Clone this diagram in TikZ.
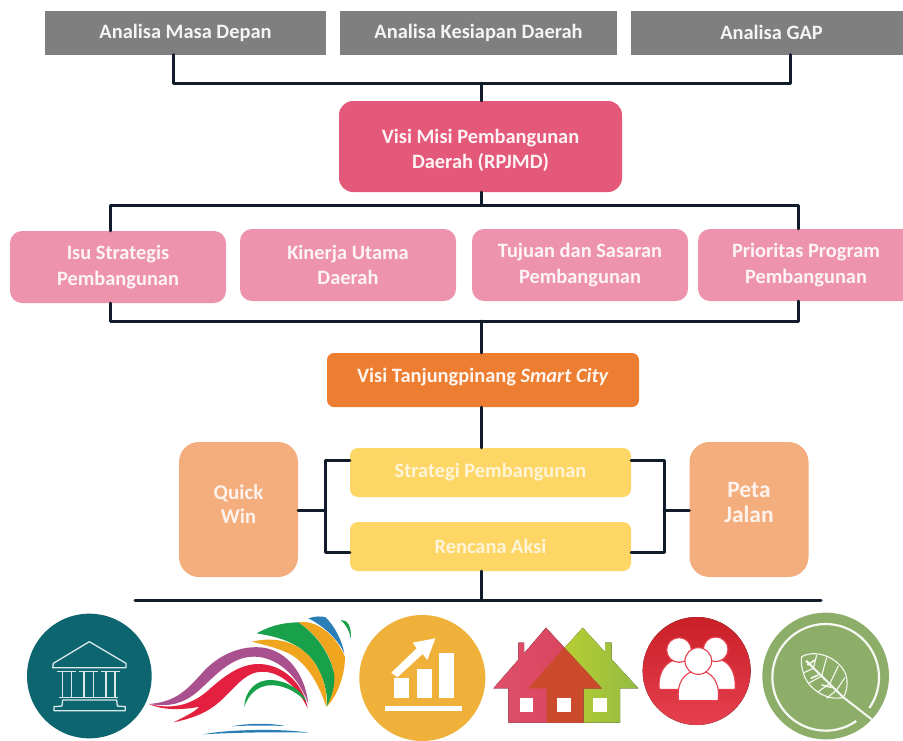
\documentclass[tikz,border=0pt]{standalone}
\usepackage{fontspec}
\setmainfont{Carlito}
\definecolor{cgray}{HTML}{7F7F7F}
\definecolor{cdeep}{HTML}{E4587A}
\definecolor{clight}{HTML}{EE93AD}
\definecolor{corange}{HTML}{ED7D31}
\definecolor{cyellow}{HTML}{FDD666}
\definecolor{cpeach}{HTML}{F4AE7E}
\definecolor{cline}{HTML}{111C2B}
\definecolor{cteal}{HTML}{0D6570}
\definecolor{cgold}{HTML}{F0B13B}
\definecolor{cleaf}{HTML}{8DAE68}
\definecolor{sorange}{HTML}{F0A51E}
\definecolor{sgreen}{HTML}{18A04A}
\definecolor{sblue}{HTML}{2A7DB5}
\definecolor{spurple}{HTML}{A9508F}
\definecolor{sred}{HTML}{E3203F}
\definecolor{hred}{HTML}{DF4F6B}
\definecolor{hredb}{HTML}{D64056}
\definecolor{hdark}{HTML}{CC4A2C}
\definecolor{hlime}{HTML}{C8D62B}
\definecolor{hgreen}{HTML}{93BB42}
\definecolor{pred}{HTML}{C91F27}
\definecolor{predb}{HTML}{E6404F}
\tikzset{
 box/.style={inner sep=0pt,align=center,font=\fontsize{20.4}{25.5}\selectfont\bfseries},
 graybox/.style={box,fill=cgray,text=white!92!cgray,minimum width=281pt,minimum height=44pt},
 deepbox/.style={box,fill=cdeep,rounded corners=14pt,minimum width=283pt,minimum height=91pt},
 lightbox/.style={box,fill=clight,text=white!90!clight,rounded corners=12pt,minimum width=216pt,minimum height=72pt},
 orangebox/.style={box,fill=corange,rounded corners=7pt,minimum width=312pt,minimum height=54pt},
 yellowbox/.style={box,fill=cyellow,text=white!75!cyellow,rounded corners=8pt,minimum width=281pt,minimum height=49pt},
 peachbox/.style={box,fill=cpeach,rounded corners=20pt,minimum width=119pt,minimum height=135pt},
 lab/.style={inner sep=0pt,align=center,rounded corners=0pt,fill=none},
 conn/.style={draw=cline,line width=3pt,line cap=round,line join=round},
 iconline/.style={draw=white!85!cteal,line width=1.3pt,line join=round},
}
\begin{document}
\begin{tikzpicture}[x=1pt,y=-1pt]
\useasboundingbox (0,0) rectangle (903,740);
\fill[white] (0,0) rectangle (903,740);
% nodes
\node[graybox] (g1) at (185.5,32.5) {Analisa Masa Depan};
\node[graybox,minimum width=277pt] (g2) at (478.5,32.5) {Analisa Kesiapan Daerah};
\node[graybox] (g3) at (771.5,32.5) {Analisa GAP};
\node[deepbox,label={[lab,yshift=-4pt,font=\fontsize{20.4}{25.5}\selectfont\bfseries,text=white!92!cdeep]center:{Visi Misi Pembangunan\\Daerah (RPJMD)}}] (visi) at (480.5,146.5) {};
\node[lightbox] (isu) at (118,267) {Isu Strategis\\Pembangunan};
\node[lightbox] (kin) at (348,265) {Kinerja Utama\\Daerah};
\node[lightbox] (tuj) at (580,265) {Tujuan dan Sasaran\\Pembangunan};
\node[lightbox] (pri) at (806,265) {Prioritas Program\\Pembangunan};
\node[orangebox,label={[lab,yshift=3pt,font=\fontsize{20.4}{25.5}\selectfont\bfseries,text=white!92!corange]center:{Visi Tanjungpinang \textit{Smart City}}}] (tj) at (483,380) {};
\node[yellowbox] (str) at (490.5,472.5) {Strategi Pembangunan};
\node[yellowbox] (ren) at (490.5,546.5) {Rencana Aksi};
\node[peachbox,label={[lab,yshift=5pt,font=\fontsize{21}{24}\selectfont\bfseries,text=white!85!cpeach]center:{Quick\\Win}}] (qw) at (238.5,509.5) {};
\node[peachbox,label={[lab,yshift=7pt,font=\fontsize{23.5}{25}\selectfont\bfseries,text=white!85!cpeach]center:{Peta\\Jalan}}] (pj) at (749,509.5) {};
% junctions
\coordinate (ja) at (173,83);
\coordinate (jb) at (481,83);
\coordinate (jc) at (790,83);
\coordinate (jd) at (110,205);
\coordinate (je) at (481,205);
\coordinate (jf) at (798,205);
\coordinate (jg) at (110,321);
\coordinate (jh) at (481,321);
\coordinate (ji) at (798,321);
\coordinate (jj) at (325,460);
\coordinate (jk) at (325,552);
\coordinate (jl) at (325,510);
\coordinate (jm) at (664,460);
\coordinate (jn) at (664,552);
\coordinate (jo) at (664,510);
\coordinate (jp) at (135,600);
\coordinate (jq) at (481,600);
\coordinate (jr) at (821,600);
% connectors
\draw[conn] (ja |- g1.south) -- (ja) -- (jc) -- (jc |- g3.south);
\draw[conn] (jb) -- (jb |- visi.north);
\draw[conn] (je |- visi.south) -- (je);
\draw[conn] (jd |- isu.north) -- (jd) -- (jf) -- (jf |- pri.north);
\draw[conn] (jg |- isu.south) -- (jg) -- (ji) -- (ji |- pri.south);
\draw[conn] (jh) -- (jh |- tj.north);
\draw[conn] (jh |- tj.south) -- (jh |- str.north);
\draw[conn] (str.west |- jj) -- (jj) -- (jk) -- (ren.west |- jk);
\draw[conn] (qw.east |- jl) -- (jl);
\draw[conn] (str.east |- jm) -- (jm) -- (jn) -- (ren.east |- jn);
\draw[conn] (jo) -- (pj.west |- jo);
\draw[conn] (jq |- ren.south) -- (jq);
\draw[conn] (jp) -- (jr);
% left icons (crop coordinates, 3 units per pixel)
\begin{scope}[shift={(0,600)},x=0.33333pt,y=-0.33333pt]
 % bank
 \fill[cteal] (268,228) circle[radius=187];
 \draw[iconline] (268,125) -- (160,190) -- (158,203) -- (378,203) -- (378,190) -- cycle;
 \draw[iconline] (172,215) -- (228,215) (187,215) -- (187,290) (214,215) -- (214,290)
                 (238,215) -- (294,215) (252,215) -- (252,290) (280,215) -- (280,290)
                 (304,215) -- (360,215) (318,215) -- (318,290) (345,215) -- (345,290)
                 (178,293) -- (355,293);
 \draw[iconline] (188,300) -- (350,300) -- (352,318) -- (376,320) -- (376,332) -- (162,332) -- (162,320) -- (186,318) -- cycle;
 % swoosh
 \fill[spurple] (447,312) .. controls (530,305) and (560,270) .. (610,215)
    .. controls (660,160) and (730,135) .. (790,143)
    .. controls (860,153) and (915,220) .. (925,312)
    .. controls (900,240) and (840,172) .. (765,170)
    .. controls (690,168) and (640,235) .. (590,277)
    .. controls (550,310) and (510,322) .. (447,312) -- cycle;
 \fill[sred] (447,312) .. controls (500,325) and (560,325) .. (620,275)
    .. controls (670,230) and (720,190) .. (780,192)
    .. controls (850,195) and (910,250) .. (923,325)
    .. controls (890,255) and (830,205) .. (770,217)
    .. controls (720,228) and (690,285) .. (640,320)
    .. controls (610,342) and (570,357) .. (520,367)
    .. controls (555,350) and (585,335) .. (598,320)
    .. controls (550,330) and (490,332) .. (447,312) -- cycle;
 \fill[sgreen] (733,320) .. controls (735,270) and (770,238) .. (815,240)
    .. controls (860,242) and (905,270) .. (920,305)
    .. controls (885,272) and (845,252) .. (805,256)
    .. controls (770,260) and (745,285) .. (733,320) -- cycle;
 \fill[sorange] (895,67) .. controls (945,58) and (1005,100) .. (1035,170)
    .. controls (1035,230) and (1010,290) .. (980,320) -- (1000,210)
    .. controls (985,150) and (945,100) .. (895,67) -- cycle;
 \fill[sgreen] (770,100) .. controls (820,72) and (860,68) .. (895,67)
    .. controls (950,105) and (990,160) .. (1003,225)
    .. controls (1005,260) and (995,290) .. (980,320)
    .. controls (985,280) and (970,230) .. (945,190)
    .. controls (900,125) and (830,110) .. (770,100) -- cycle;
 \fill[sorange] (755,125) .. controls (830,108) and (900,125) .. (945,190)
    .. controls (970,230) and (985,280) .. (978,320)
    .. controls (960,260) and (925,195) .. (875,165)
    .. controls (840,145) and (795,135) .. (755,125) -- cycle;
 \fill[sblue] (925,55) .. controls (945,48) and (965,48) .. (977,52)
    .. controls (1005,80) and (1025,120) .. (1033,160)
    .. controls (1015,120) and (975,80) .. (925,55) -- cycle;
 \fill[sgreen] (1022,60) .. controls (1042,58) and (1056,80) .. (1052,115)
    .. controls (1048,90) and (1038,75) .. (1022,60) -- cycle;
 \fill[sblue] (610,403) .. controls (680,388) and (850,385) .. (925,398)
    .. controls (830,395) and (690,398) .. (610,403) -- cycle;
 \fill[sblue] (695,379) .. controls (740,370) and (810,368) .. (855,378)
    .. controls (810,376) and (740,376) .. (695,379) -- cycle;
 % chart
 \fill[cgold] (1267,234) circle[radius=189];
 \fill[white] (1155,318) rectangle (1385,333);
 \fill[white] (1182,235) rectangle (1226,295);
 \fill[white] (1250,208) rectangle (1296,295);
 \fill[white] (1316,160) rectangle (1362,295);
 \fill[white] (1174,218) -- (1250,145) -- (1238,128) -- (1306,115) -- (1282,180) -- (1268,162) -- (1192,232) -- cycle;
\end{scope}
% right icons
\begin{scope}[shift={(450,600)},x=0.33333pt,y=-0.33333pt]
 % green house
 \fill[left color=hlime,right color=hgreen]
   (398,83) -- (465,156) -- (465,128) -- (485,128) -- (485,178) -- (565,265) -- (510,265) -- (510,368) -- (400,368) -- (400,265) -- (235,265) -- cycle;
 % red house
 \fill[left color=hred,right color=hredb]
   (288,83) -- (455,265) -- (400,265) -- (400,368) -- (175,368) -- (175,265) -- (130,265) -- (205,179) -- (205,128) -- (222,128) -- (222,160) -- cycle;
 % overlap
 \fill[hdark] (343,143) -- (455,265) -- (400,265) -- (400,368) -- (290,368) -- (290,265) -- (235,265) -- cycle;
 % windows
 \fill[white] (210,295) rectangle (250,335);
 \fill[white] (320,295) rectangle (362,335);
 \fill[white] (430,295) rectangle (472,335);
 % people
 \fill[top color=pred,bottom color=predb] (740,213) circle[radius=162];
 \begin{scope}[fill=white,draw=predb,line width=1.1pt]
  \filldraw (628,268) .. controls (622,215) and (650,178) .. (690,178) .. controls (720,178) and (740,205) .. (745,268) -- cycle;
  \filldraw (740,268) .. controls (745,205) and (770,178) .. (805,178) .. controls (838,182) and (860,220) .. (855,268) -- cycle;
  \filldraw (687,150) circle[radius=37];
  \filldraw (797,148) circle[radius=37];
  \filldraw (686,302) .. controls (678,250) and (703,212) .. (745,212) .. controls (787,212) and (812,250) .. (804,302) -- cycle;
  \filldraw (745,183) circle[radius=40];
 \end{scope}
 % leaf
 \fill[cleaf] (1127,228) circle[radius=190];
 \draw[white!92!cleaf,line width=2.2pt] (1127,232) ++(55:160) arc[start angle=55,end angle=395,radius=160];
 \draw[white!92!cleaf,line width=1.1pt] (1055,170) .. controls (1100,145) and (1170,175) .. (1188,225)
   .. controls (1195,250) and (1190,275) .. (1180,292)
   .. controls (1130,305) and (1075,265) .. (1062,225)
   .. controls (1055,205) and (1052,185) .. (1055,170) -- cycle;
 \draw[white!92!cleaf,line width=2pt] (1068,182) -- (1180,292) -- (1265,358);
 \draw[white!92!cleaf,line width=1.1pt]
   (1090,205) -- (1100,165) (1115,228) -- (1130,172) (1140,250) -- (1165,198)
   (1090,205) -- (1062,218) (1115,228) -- (1075,250) (1140,250) -- (1105,275)
   (1160,270) -- (1130,295) (1160,270) -- (1185,232);
 \draw[white!92!cleaf,line width=1.6pt] (1072,195) -- (1095,180) (1082,235) -- (1105,225) (1115,255) -- (1145,262);
\end{scope}
\end{tikzpicture}
\end{document}
